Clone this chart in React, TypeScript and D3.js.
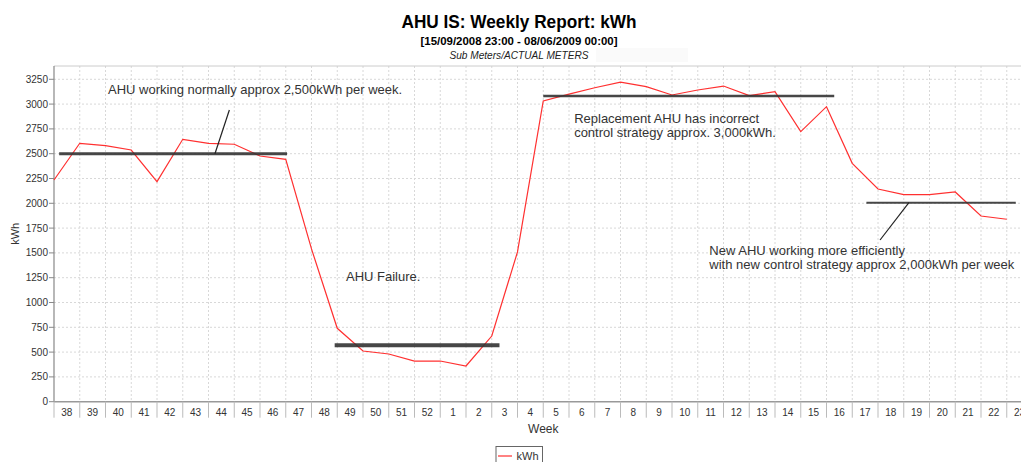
import * as d3 from 'd3'

const weeks = ['38','39','40','41','42','43','44','45','46','47','48','49','50','51','52',
  '1','2','3','4','5','6','7','8','9','10','11','12','13','14','15','16','17','18','19','20','21','22','23']
const kwh = [2235, 2605, 2581, 2537, 2218, 2645, 2605, 2595, 2477, 2443, 1540, 740, 511, 481, 410,
  410, 360, 662, 1510, 3031, 3100, 3165, 3222, 3176, 3092, 3142, 3182, 3085, 3125, 2722, 2974,
  2403, 2144, 2087, 2087, 2114, 1872, 1839]
const yTicks = [0, 250, 500, 750, 1000, 1250, 1500, 1750, 2000, 2250, 2500, 2750, 3000, 3250]

// annotation bars, in week-index / kWh units
const levels = [
  { from: 0.2, to: 9.05, value: 2500, width: 3 },
  { from: 10.9, to: 17.3, value: 568, width: 4 },
  { from: 19.0, to: 30.3, value: 3082, width: 2.5 },
  { from: 31.55, to: 37.35, value: 2006, width: 2 },
]
const pointers = [
  { i0: 6.25, v0: 2500, i1: 6.81, v1: 2940 },
  { i0: 33.2, v0: 2006, i1: 32.08, v1: 1630 },
]
const notes = [
  { i: 2.1, v: 3097, lines: ['AHU working normally approx 2,500kWh per week.'] },
  { i: 11.34, v: 1213, lines: ['AHU Failure.'] },
  { i: 20.2, v: 2808, lines: ['Replacement AHU has incorrect', 'control strategy approx. 3,000kWh.'] },
  { i: 25.45, v: 1478, lines: ['New AHU working more efficiently', 'with new control strategy approx 2,000kWh per week'] },
]

const W = 1021
const H = 462
const margin = { left: 54, top: 66, bottom: 60 }
const step = 25.75
const font = '"Liberation Sans", Arial, sans-serif'

export default function App() {
  const x = d3.scaleBand().domain(weeks).range([margin.left, margin.left + weeks.length * step])
  const xi = d3.scaleLinear().domain([0, weeks.length]).range([margin.left, margin.left + weeks.length * step])
  const y = d3.scaleLinear().domain([0, 3384]).range([401.7, margin.top])
  const bottom = y(0)
  const right = xi(weeks.length)

  const line = d3.line<number>()
    .x((_, i) => x(weeks[i]) as number)
    .y(d => y(d))

  return (
    <svg width={W} height={H} style={{ position: 'absolute', left: 0, top: 0, background: '#fff' }}
      fontFamily={font}>
      {/* titles */}
      <text x={519} y={28} textAnchor="middle" fontSize={19} fontWeight="bold"
        textLength={235} lengthAdjust="spacingAndGlyphs">AHU IS: Weekly Report: kWh</text>
      <text x={519} y={44.5} textAnchor="middle" fontSize={11.5} fontWeight="bold"
        textLength={197} lengthAdjust="spacingAndGlyphs">[15/09/2008 23:00 - 08/06/2009 00:00]</text>
      <rect x={596} y={48} width={92} height={14} fill="#fafafa" />
      <text x={519} y={59} textAnchor="middle" fontSize={10.5} fontStyle="italic" fill="#222"
        textLength={139} lengthAdjust="spacingAndGlyphs">Sub Meters/ACTUAL METERS</text>

      {/* grid */}
      <g stroke="#d8d8d8" strokeDasharray="2,2" strokeWidth={1}>
        {yTicks.filter(t => t > 0).map(t => (
          <line key={t} x1={margin.left} x2={right} y1={y(t)} y2={y(t)} />
        ))}
        {weeks.slice(1).map(w => (
          <line key={w} x1={x(w)} x2={x(w)} y1={margin.top} y2={bottom} />
        ))}
      </g>
      <line x1={margin.left} x2={right} y1={margin.top} y2={margin.top} stroke="#ccc" />

      {/* axes */}
      <line x1={margin.left} x2={margin.left} y1={margin.top} y2={bottom} stroke="#888" strokeWidth={1.2} />
      <line x1={margin.left} x2={right} y1={bottom} y2={bottom} stroke="#999" strokeWidth={1.5} />
      {yTicks.map(t => (
        <g key={t}>
          <line x1={margin.left - 5} x2={margin.left} y1={y(t)} y2={y(t)} stroke="#888" />
          <text x={margin.left - 6} y={y(t) + 3.5} textAnchor="end" fontSize={10} fill="#333">{t}</text>
        </g>
      ))}
      {weeks.map(w => (
        <g key={w}>
          <line x1={x(w)} x2={x(w)} y1={bottom} y2={bottom + 16} stroke="#bbb" />
          <text x={(x(w) as number) + x.bandwidth() / 2} y={bottom + 14.5} textAnchor="middle"
            fontSize={10} fill="#333">{w}</text>
        </g>
      ))}
      <text x={(margin.left + right) / 2} y={433} textAnchor="middle" fontSize={12} fill="#333">Week</text>
      <text transform={`translate(19, ${(margin.top + bottom) / 2}) rotate(-90)`} textAnchor="middle"
        fontSize={11} fill="#333">kWh</text>

      {/* series */}
      <path d={line(kwh) ?? ''} fill="none" stroke="#ff3030" strokeWidth={1.2} />

      {/* annotations */}
      {levels.map((l, k) => (
        <line key={k} x1={xi(l.from)} x2={xi(l.to)} y1={y(l.value)} y2={y(l.value)}
          stroke="#333" strokeWidth={l.width} strokeOpacity={0.9} />
      ))}
      {pointers.map((p, k) => (
        <line key={k} x1={xi(p.i0)} y1={y(p.v0)} x2={xi(p.i1)} y2={y(p.v1)} stroke="#222" strokeWidth={1.2} />
      ))}
      {notes.map((n, k) => (
        <text key={k} x={xi(n.i)} y={y(n.v)} fontSize={13} fill="#333">
          {n.lines.map((s, j) => (
            <tspan key={j} x={xi(n.i)} dy={j === 0 ? 0 : 14}>{s}</tspan>
          ))}
        </text>
      ))}

      {/* legend */}
      <rect x={496} y={446.5} width={46.5} height={20} fill="#fff" stroke="#666" />
      <line x1={498} x2={512} y1={456} y2={456} stroke="#ff3030" strokeWidth={1.2} />
      <text x={516.5} y={460} fontSize={11} fill="#333">kWh</text>
    </svg>
  )
}
